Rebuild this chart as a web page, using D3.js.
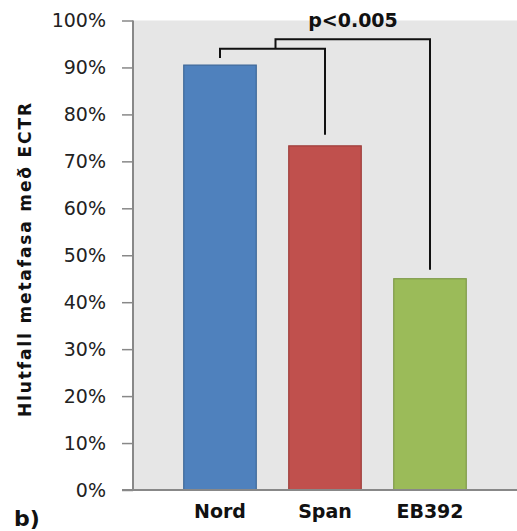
<!DOCTYPE html>
<html>
<head>
<meta charset="utf-8">
<script src="https://cdn.jsdelivr.net/npm/d3@7"></script>
<style>
  body { margin: 0; background: #fff; }
  svg { display: block; }
  svg text { font-family: "DejaVu Sans", Verdana, sans-serif; }
</style>
</head>
<body>
<svg id="chart" width="517" height="531"></svg>
<script>
// Bar chart: share of metaphases with ECTR, three strains, with significance bracket

const categories = ['Nord', 'Span', 'EB392'];
const values = [0.905, 0.733, 0.45];
const colors = ['#4f81bd', '#c0504d', '#9bbb59'];
const strokes = ['#3d6797', '#9e3d3a', '#7e9a48'];
const yTicks = [0, 0.1, 0.2, 0.3, 0.4, 0.5, 0.6, 0.7, 0.8, 0.9, 1.0];
// bracket levels in data units
const brackets = [
  { from: 'Nord', to: 'Span', level: 0.94 },
  { from: 'inner', to: 'EB392', level: 0.96 }
];
const pLabel = 'p<0.005';
const yTitle = 'Hlutfall metafasa með ECTR';
const panelLabel = 'b)';

const svg = d3.select('#chart');

const plot = { left: 133, right: 517, top: 20.5, bottom: 490 };

const y = d3.scaleLinear().domain([0, 1]).range([plot.bottom, plot.top]);
const x = d3.scaleBand()
  .domain(categories)
  .range([167.5, 482.5])
  .paddingInner(0.3)
  .paddingOuter(0.15);

// Plot background
svg.append('rect')
  .attr('x', plot.left)
  .attr('y', plot.top)
  .attr('width', plot.right - plot.left)
  .attr('height', plot.bottom - plot.top)
  .attr('fill', '#e6e6e6');

// Bars
svg.selectAll('.bar')
  .data(categories)
  .enter().append('rect')
  .attr('class', 'bar')
  .attr('x', d => x(d) + 0.5)
  .attr('y', (d, i) => y(values[i]))
  .attr('width', x.bandwidth() - 1)
  .attr('height', (d, i) => y(0) - y(values[i]))
  .attr('fill', (d, i) => colors[i])
  .attr('stroke', (d, i) => strokes[i])
  .attr('stroke-width', 1.2);

// Y axis
const yAxis = svg.append('g')
  .attr('transform', `translate(${plot.left},0)`)
  .call(d3.axisLeft(y).tickValues(yTicks).tickFormat(d3.format('.0%')).tickSize(11).tickPadding(16))
  .attr('font-family', null)
  .attr('font-size', 19);
yAxis.select('.domain').remove();
yAxis.selectAll('.tick line').attr('stroke', '#888').attr('stroke-width', 1.5);
yAxis.selectAll('.tick text').attr('fill', '#222');

svg.append('line')
  .attr('x1', plot.left).attr('x2', plot.left)
  .attr('y1', plot.top).attr('y2', plot.bottom)
  .attr('stroke', '#888').attr('stroke-width', 2);

// X baseline
svg.append('line')
  .attr('x1', plot.left - 11).attr('x2', plot.right)
  .attr('y1', plot.bottom).attr('y2', plot.bottom)
  .attr('stroke', '#888').attr('stroke-width', 2);

// Category labels
const xAxis = svg.append('g')
  .attr('transform', `translate(0,${plot.bottom})`)
  .call(d3.axisBottom(x).tickSize(0).tickPadding(11))
  .attr('font-family', null)
  .attr('font-size', 19);
xAxis.select('.domain').remove();
xAxis.selectAll('.tick text')
  .attr('font-weight', 'bold')
  .attr('fill', '#111')
  .attr('dy', '0.9em');

// Significance brackets
const cx = d => x(d) + x.bandwidth() / 2;
const val = d => values[categories.indexOf(d)];
const b1 = brackets[0], b2 = brackets[1];
const innerMid = (cx(b1.from) + cx(b1.to)) / 2 + 3;

const bracketPaths = [
  [[cx(b1.from), y(val(b1.from)) - 7], [cx(b1.from), y(b1.level)], [cx(b1.to), y(b1.level)], [cx(b1.to), y(val(b1.to)) - 11]],
  [[innerMid, y(b1.level)], [innerMid, y(b2.level)], [cx(b2.to), y(b2.level)], [cx(b2.to), y(val(b2.to)) - 9]]
];
svg.selectAll('.bracket')
  .data(bracketPaths)
  .enter().append('path')
  .attr('class', 'bracket')
  .attr('d', d3.line())
  .attr('fill', 'none')
  .attr('stroke', '#111')
  .attr('stroke-width', 2);

svg.append('text')
  .attr('x', 353)
  .attr('y', 27)
  .attr('text-anchor', 'middle')
  .attr('font-size', 19)
  .attr('font-weight', 'bold')
  .attr('fill', '#111')
  .text(pLabel);

// Y title
svg.append('text')
  .attr('transform', `translate(31,260) rotate(-90)`)
  .attr('text-anchor', 'middle')
  .attr('font-size', 17)
  .attr('font-weight', 'bold')
  .attr('fill', '#111')
  .attr('textLength', 314)
  .attr('lengthAdjust', 'spacing')
  .text(yTitle);

// Panel label
svg.append('text')
  .attr('x', 14)
  .attr('y', 526)
  .attr('font-size', 22)
  .attr('font-weight', 'bold')
  .attr('fill', '#111')
  .text(panelLabel);
</script>
</body>
</html>
